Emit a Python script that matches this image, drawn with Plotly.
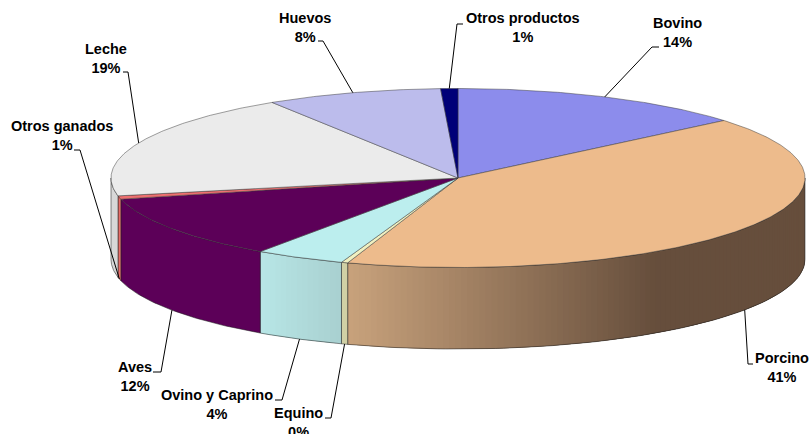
#!/usr/bin/env python3
import numpy as np
import plotly.graph_objects as go

# clockwise from 12 o'clock
names = ["Bovino", "Porcino", "Equino", "Ovino y Caprino", "Aves",
         "Otros ganados", "Leche", "Huevos", "Otros productos"]
values = [13.9, 41.25, 0.3, 4.2, 11.55, 0.6, 19.2, 8.2, 0.8]

top_colors = ["#8C8CEC", "#EDBB8C", "#F0F0C0", "#BCEEEE", "#5C0058",
              "#EE7070", "#EBEBEB", "#BCBCEC", "#000078"]
# wall colour at left / right end of the gradient, x limits of the gradient
wall_colors = {
    "Porcino": ((200, 162, 124), (102, 78, 60), 348, 655),
    "Equino": ((208, 208, 165), (208, 208, 165), 340, 348),
    "Ovino y Caprino": ((184, 230, 230), (168, 208, 208), 260, 342),
    "Aves": ((92, 0, 88), (92, 0, 88), 120, 260),
    "Otros ganados": ((230, 110, 105), (230, 110, 105), 117, 121),
    "Leche": ((216, 216, 216), (216, 216, 216), 110, 118),
}

# label centres and the elbow of each leader
label_pos = [(677, 32.5), (782, 367.5), (298, 422.5), (217, 404.5), (135, 376.5),
             (62, 135.5), (106, 58.5), (305, 27.5), (523, 27.5)]
leader_pos = [[(659, 47), (652, 47)], [(753, 364), (748, 364)], [(325, 418), (331, 418)],
              [(275, 400), (282, 400)], [(153, 372), (161, 372)], [(74, 150), (80, 150)],
              [(123, 72), (128, 72)], [(318, 41), (323, 41)], [(463, 24), (457, 24)]]

CX, CY, RX, RY, DEPTH = 458, 178, 347, 89.5, 81.5


def ex(deg):
    return CX + RX * np.sin(np.radians(deg))


def ey(deg):
    return CY - RY * np.cos(np.radians(deg))


fig = go.Figure()


def poly(x, y, fill, line=None, width=0.7):
    fig.add_trace(go.Scatter(
        x=list(x), y=list(y), mode="lines", fill="toself", fillcolor=fill,
        line=dict(color=line or fill, width=width), hoverinfo="skip", showlegend=False,
    ))


edges = np.concatenate([[0], np.cumsum(values)]) / sum(values) * 360

# walls first, only the front half shows
for i, name in enumerate(names):
    if name not in wall_colors:
        continue
    a, b = max(edges[i], 90), min(edges[i + 1], 270)
    if a >= b:
        continue
    c0, c1, x0, x1 = wall_colors[name]
    n = 1 if c0 == c1 else max(int(b - a), 1)
    steps = np.linspace(a, b, n + 1)
    for k, s0 in enumerate(steps[:-1]):
        # each strip runs on under the next one so no seams show
        s1 = min(steps[k + 1] + 2, b)
        th = np.linspace(s0, s1, max(int(s1 - s0) * 3, 4))
        t = np.clip((ex((s0 + steps[k + 1]) / 2) - x0) / (x1 - x0), 0, 1)
        rgb = [round(c0[j] + (c1[j] - c0[j]) * t) for j in range(3)]
        poly(np.r_[ex(th), ex(th[::-1])], np.r_[ey(th), ey(th[::-1]) + DEPTH],
             f"rgb({rgb[0]},{rgb[1]},{rgb[2]})", width=0)
    # outline of the wall
    th = np.linspace(a, b, 80)
    fig.add_trace(go.Scatter(
        x=np.r_[ex(th), ex(th[::-1]), ex(a)], y=np.r_[ey(th) + DEPTH, ey(th[::-1]), ey(a) + DEPTH],
        mode="lines", line=dict(color="rgba(30,30,30,0.75)", width=0.7),
        hoverinfo="skip", showlegend=False,
    ))

# top face
for i, col in enumerate(top_colors):
    th = np.linspace(edges[i], edges[i + 1], max(int(edges[i + 1] - edges[i]) * 2, 3))
    poly(np.r_[CX, ex(th), CX], np.r_[CY, ey(th), CY], col, "rgba(60,60,60,0.7)")

# labels and leaders
for i, name in enumerate(names):
    mid = (edges[i] + edges[i + 1]) / 2
    end_y = ey(mid) + (DEPTH if 90 < mid < 270 else 0)
    pts = leader_pos[i]
    fig.add_trace(go.Scatter(
        x=[pts[0][0], pts[1][0], ex(mid)], y=[pts[0][1], pts[1][1], end_y],
        mode="lines", line=dict(color="black", width=1), hoverinfo="skip", showlegend=False,
    ))
    fig.add_annotation(
        x=label_pos[i][0], y=label_pos[i][1], text=f"{name}<br>{round(values[i])}%",
        showarrow=False, xanchor="center", yanchor="middle",
        font=dict(family="Liberation Sans", size=14.5, color="black", weight="bold"),
    )

fig.update_layout(
    width=812, height=434, margin=dict(l=0, r=0, t=0, b=0),
    paper_bgcolor="white", plot_bgcolor="white", showlegend=False,
    xaxis=dict(range=[0, 812], visible=False, fixedrange=True),
    yaxis=dict(range=[434, 0], visible=False, fixedrange=True),
)
fig.write_html("out.html", config={"displayModeBar": False},
               post_script="document.body.style.margin='0';document.body.style.overflow='hidden';")
